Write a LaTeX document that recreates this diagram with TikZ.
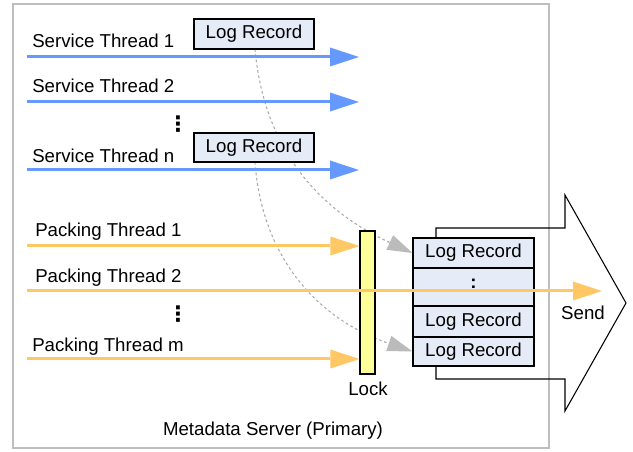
\documentclass[tikz,border=0pt]{standalone}
\usepackage{fontspec}
\setmainfont{Liberation Sans}
\newfontfamily\dotsfont{DejaVu Sans}
\usetikzlibrary{arrows.meta}
\definecolor{threadblue}{HTML}{6699FF}
\definecolor{threadorange}{HTML}{FFC864}
\definecolor{lockyellow}{HTML}{FFFF99}
\definecolor{recordfill}{HTML}{E6ECF7}
\definecolor{framegray}{HTML}{BEBEBE}
\definecolor{flowgray}{HTML}{AAAAAA}
\definecolor{headgray}{HTML}{BBBBBB}

\begin{document}
\begin{tikzpicture}[x=0.75pt,y=-0.75pt,
  every node/.style={font=\fontsize{14pt}{16pt}\selectfont, inner sep=0pt},
  threadlabel/.style={anchor=base west},
  vdotsmark/.style={font=\dotsfont\bfseries\fontsize{16pt}{18pt}\selectfont},
  record/.style={draw=black, line width=0.8pt, fill=recordfill,
    minimum width=#1, anchor=center},
  svc/.style={draw=threadblue, line width=2.25pt,
    -{Triangle[length=21.75pt,width=14.25pt,line width=0pt]}},
  pack/.style={draw=threadorange, line width=2.25pt,
    -{Triangle[length=21.75pt,width=14.25pt,line width=0pt]}},
  flow/.style={draw=flowgray, line width=0.8pt, dash pattern=on 2pt off 2pt,
    -{Triangle[length=18.75pt,width=12pt,line width=0pt,color=headgray]}},
]
\useasboundingbox (0,0) rectangle (633,452);

% server frame and its caption
\node[draw=framegray, line width=1.1pt, minimum width=402pt, minimum height=333pt]
  (server) at (281,226) {};
\node (srvname) at (273,431) {Metadata Server (Primary)};

% outgoing send arrow (outline)
\draw[line width=0.8pt] (436,238) -- (436,228) -- (565,228) -- (565,195)
  -- (626,303) -- (565,411) -- (565,379) -- (436,379) -- (436,366);

% stack of packed records (placed first so curves can end on it)
\node[record=90.75pt, minimum height=22.5pt] (row1) at (473.5,253) {Log Record};
\node[record=90.75pt, minimum height=28.5pt] (row2) at (473.5,287) {};
\node[record=90.75pt, minimum height=23.25pt] (row3) at (473.5,321.5) {Log Record};
\node[record=90.75pt, minimum height=21.75pt] (row4) at (473.5,351.5) {Log Record};

% records produced by service threads
\coordinate (lr1s) at (255,49);
\coordinate (lr2s) at (255,162);
\draw[flow] (lr1s) .. controls (265,160) and (330,215) .. (row1.west);
\draw[flow] (lr2s) .. controls (262,260) and (320,320) .. (row4.west);

% service threads
\coordinate (s1a) at (27,57);   \coordinate (s1b) at (359,57);
\coordinate (s2a) at (27,102);  \coordinate (s2b) at (359,102);
\coordinate (sna) at (27,170);  \coordinate (snb) at (359,170);
\draw[svc] (s1a) -- (s1b);
\draw[svc] (s2a) -- (s2b);
\draw[svc] (sna) -- (snb);
\node[threadlabel] (st1) at (32,47.5) {Service Thread 1};
\node[threadlabel] (st2) at (32,93) {Service Thread 2};
\node[threadlabel] (stn) at (32,162.5) {Service Thread n};
\node[vdotsmark] (sdots) at (178,124) {⋮};

\node[record=90pt, minimum height=22.5pt] (lr1) at (254,34) {Log Record};
\node[record=90pt, minimum height=21.75pt] (lr2) at (254,147.5) {Log Record};

% lock
\node[draw=black, line width=0.8pt, fill=lockyellow, minimum width=11.25pt,
  minimum height=107.25pt] (lock) at (367.5,302.5) {};
\node (locklabel) at (368,389) {Lock};

% packing threads
\coordinate (p1a) at (27,246);
\coordinate (p2a) at (27,291);  \coordinate (p2b) at (602,291);
\coordinate (pma) at (27,359);
\draw[pack] (p1a) -- (p1a -| lock.west);
\draw[pack] (pma) -- (pma -| lock.west);
\draw[pack] (p2a) -- (p2b);
\node[threadlabel] (pt1) at (35,236.5) {Packing Thread 1};
\node[threadlabel] (pt2) at (35,282.5) {Packing Thread 2};
\node[threadlabel] (ptm) at (32,351.5) {Packing Thread m};
\node[vdotsmark] (pdots) at (178,314) {⋮};

\node[font=\bfseries\fontsize{14pt}{16pt}\selectfont] (gap) at (473.5,283.5) {:};
\node (send) at (583,313) {Send};
\end{tikzpicture}
\end{document}
